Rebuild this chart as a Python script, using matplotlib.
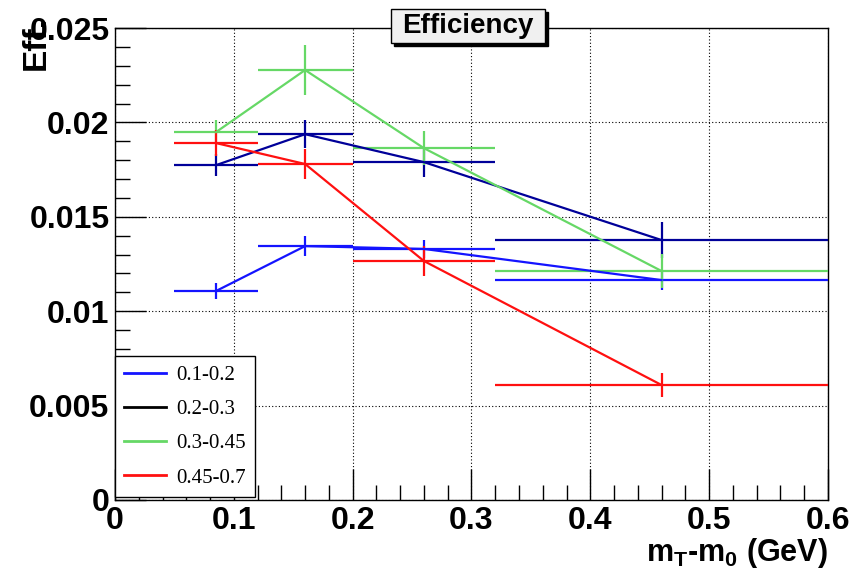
import matplotlib
matplotlib.use("Agg")
import matplotlib.pyplot as plt
from matplotlib.lines import Line2D
from matplotlib.patches import Rectangle
from matplotlib.ticker import MultipleLocator, FuncFormatter

plt.rcParams["font.family"] = ["Liberation Sans", "DejaVu Sans"]
plt.rcParams["mathtext.fontset"] = "custom"
plt.rcParams["mathtext.bf"] = "Liberation Sans:bold"
plt.rcParams["mathtext.rm"] = "Liberation Sans:bold"
plt.rcParams["mathtext.default"] = "bf"

# bins in mT - m0 (GeV)
bin_lo = [0.05, 0.12, 0.20, 0.32]
bin_hi = [0.12, 0.20, 0.32, 0.60]
x_pts = [0.085, 0.16, 0.26, 0.46]

labels = ["0.1-0.2", "0.2-0.3", "0.3-0.45", "0.45-0.7"]
eff_01 = [0.01107, 0.01345, 0.01330, 0.01165]
eff_02 = [0.01774, 0.01938, 0.01790, 0.01377]
eff_03 = [0.01949, 0.02278, 0.01864, 0.01213]
eff_04 = [0.01891, 0.01780, 0.01266, 0.00609]
err_01 = [0.00040, 0.00055, 0.00050, 0.00050]
err_02 = [0.00060, 0.00075, 0.00080, 0.00095]
err_03 = [0.00065, 0.00130, 0.00090, 0.00090]
err_04 = [0.00070, 0.00080, 0.00080, 0.00065]

colors = ["#1414ff", "#000099", "#66d866", "#ff1010"]
legend_colors = ["#1414ff", "#000000", "#66d866", "#ff1010"]

fig = plt.figure(figsize=(8.66, 5.74), dpi=100)
ax = fig.add_axes([0.1328, 0.129, 0.8232, 0.822])

xerr_lo = [x - lo for x, lo in zip(x_pts, bin_lo)]
xerr_hi = [hi - x for x, hi in zip(x_pts, bin_hi)]

for vals, errs, c in zip([eff_01, eff_02, eff_03, eff_04],
                         [err_01, err_02, err_03, err_04], colors):
    ax.errorbar(x_pts, vals, yerr=errs, xerr=[xerr_lo, xerr_hi],
                color=c, lw=1.6, elinewidth=1.6, capsize=0, zorder=3)

ax.set_xlim(0, 0.6)
ax.set_ylim(0, 0.025)
ax.xaxis.set_major_locator(MultipleLocator(0.1))
ax.xaxis.set_minor_locator(MultipleLocator(0.02))
ax.yaxis.set_major_locator(MultipleLocator(0.005))
ax.yaxis.set_minor_locator(MultipleLocator(0.001))
fmt = FuncFormatter(lambda v, p: "0" if abs(v) < 1e-9 else f"{v:g}")
ax.xaxis.set_major_formatter(fmt)
ax.yaxis.set_major_formatter(fmt)
ax.tick_params(which="both", direction="in", top=False, right=False, colors="black")
ax.tick_params(which="major", length=22, width=1.0, labelsize=23, pad=4)
ax.tick_params(which="minor", length=11, width=1.0)
for lab in ax.get_xticklabels() + ax.get_yticklabels():
    lab.set_fontweight("bold")
ax.grid(True, which="major", color="black", linestyle=(0, (1, 2)), lw=0.8)
for s in ax.spines.values():
    s.set_linewidth(1.0)

ax.set_xlabel(r"m$_T$-m$_0$ (GeV)", fontsize=22, fontweight="bold", loc="right", labelpad=0)
ax.set_ylabel("Eff.", fontsize=24, fontweight="bold", loc="top")
ax.yaxis.set_label_coords(-0.089, 1.025)

handles = [Line2D([], [], color=c, lw=2) for c in legend_colors]
leg = ax.legend(handles, labels, loc="lower left", bbox_to_anchor=(0.0, 3 / 472),
                prop={"family": "Liberation Serif", "size": 15},
                frameon=True, fancybox=False, edgecolor="black",
                framealpha=1.0, borderaxespad=0.0, handlelength=2.0,
                labelspacing=0.7, borderpad=0.45, handletextpad=0.5)
leg.get_frame().set_linewidth(1.0)
leg.set_zorder(5)

# title box with shadow
W, H = 866.0, 574.0
bx0, bx1, by0, by1 = 391, 545, 9, 43
fig.patches.append(Rectangle((bx0 / W + 3 / W, 1 - by1 / H - 3 / H), (bx1 - bx0) / W, (by1 - by0) / H,
                             transform=fig.transFigure, facecolor="black", edgecolor="black", zorder=10))
fig.patches.append(Rectangle((bx0 / W, 1 - by1 / H), (bx1 - bx0) / W, (by1 - by0) / H,
                             transform=fig.transFigure, facecolor="#f0f0f0", edgecolor="black",
                             lw=1.0, zorder=11))
fig.text((bx0 + bx1) / 2 / W, 1 - (by0 + by1) / 2 / H, "Efficiency", ha="center", va="center",
         fontsize=20, fontweight="bold", zorder=12)

fig.savefig("out.png", dpi=100)
